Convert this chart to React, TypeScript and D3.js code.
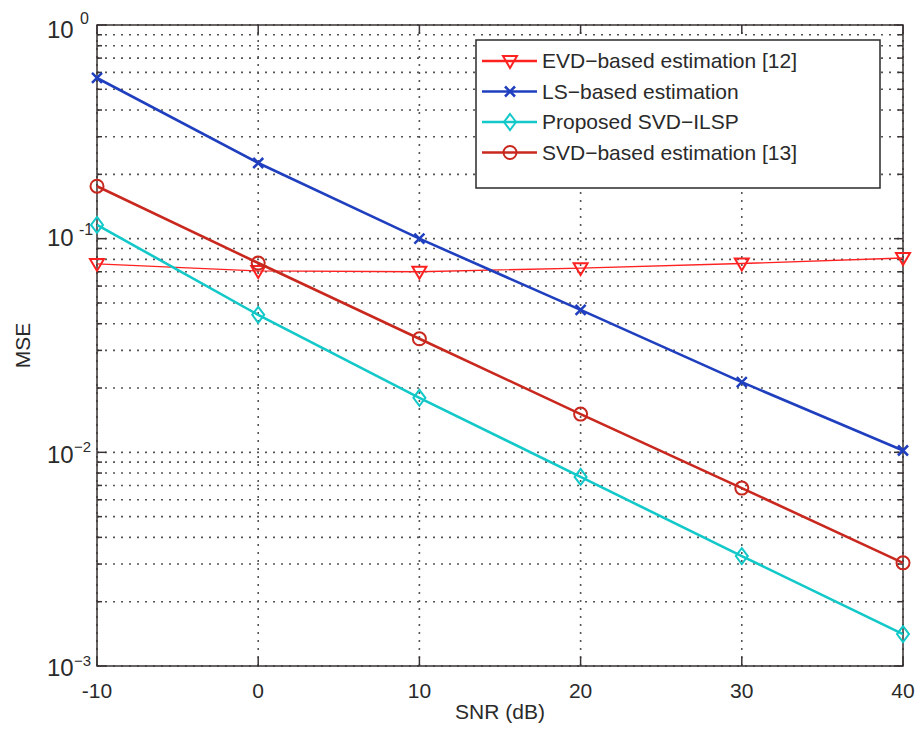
import * as d3 from 'd3';
import { useEffect, useRef } from 'react';

// значения
const snr = [-10, 0, 10, 20, 30, 40];
const evdMse = [0.0762, 0.0706, 0.0700, 0.0728, 0.0765, 0.0812];
const lsMse = [0.565, 0.226, 0.100, 0.0464, 0.0213, 0.0102];
const ilspMse = [0.116, 0.044, 0.018, 0.00767, 0.00327, 0.00141];
const svdMse = [0.176, 0.0769, 0.034, 0.0151, 0.0068, 0.00304];

const xTicks = [-10, 0, 10, 20, 30, 40];
const yDecades = [0, -1, -2, -3];
const yExpLabels = ['0', '-1', '\u22122', '\u22123'];

const seriesNames = [
  'EVD\u2212based estimation [12]',
  'LS\u2212based estimation',
  'Proposed SVD\u2212ILSP',
  'SVD\u2212based estimation [13]',
];

const App = () => {
  const chartRef = useRef<SVGSVGElement>(null);

  const width = 919;
  const height = 729;
  const margin = { top: 25, bottom: 63, left: 97, right: 16 };

  useEffect(() => {
    const svg = d3.select(chartRef.current);
    svg.selectAll('*').remove();

    const x = d3.scaleLinear().domain([-10, 40]).range([margin.left, width - margin.right]);
    const y = d3.scaleLog().domain([1e-3, 1]).range([height - margin.bottom, margin.top]);

    const [x0, x1] = x.range();
    const [y0, y1] = y.range();
    const font = 'Liberation Sans, Arial, sans-serif';
    const ink = '#2a2a2a';

    svg.append('rect').attr('width', width).attr('height', height).attr('fill', '#fff');

    // сетка
    const yGrid: number[] = [];
    for (let e = -3; e < 0; e++) for (let m = 1; m <= 9; m++) yGrid.push(m * Math.pow(10, e));
    yGrid.push(1);

    const g = svg.append('g');
    g.selectAll('.hg')
      .data(yGrid)
      .enter()
      .append('line')
      .attr('x1', x0).attr('x2', x1)
      .attr('y1', d => y(d)).attr('y2', d => y(d))
      .attr('stroke', '#555')
      .attr('stroke-width', 1.6)
      .attr('stroke-dasharray', '2,6');

    g.selectAll('.vg')
      .data(xTicks)
      .enter()
      .append('line')
      .attr('x1', d => x(d)).attr('x2', d => x(d))
      .attr('y1', y0).attr('y2', y1)
      .attr('stroke', '#555')
      .attr('stroke-width', 1.6)
      .attr('stroke-dasharray', '2,6');

    // рамка
    svg.append('rect')
      .attr('x', x0).attr('y', y1)
      .attr('width', x1 - x0).attr('height', y0 - y1)
      .attr('fill', 'none')
      .attr('stroke', '#3a3333')
      .attr('stroke-width', 1.5);

    // засечки по Y (внутрь, с обеих сторон)
    yGrid.forEach(v => {
      const major = Math.abs(Math.log10(v) - Math.round(Math.log10(v))) < 1e-9;
      const len = major ? 9 : 5;
      [[x0, x0 + len], [x1, x1 - len]].forEach(([a, b]) => {
        svg.append('line')
          .attr('x1', a).attr('x2', b)
          .attr('y1', y(v)).attr('y2', y(v))
          .attr('stroke', '#3a3333').attr('stroke-width', 1.5);
      });
    });
    xTicks.forEach(v => {
      [[y0, y0 - 9], [y1, y1 + 9]].forEach(([a, b]) => {
        svg.append('line')
          .attr('x1', x(v)).attr('x2', x(v))
          .attr('y1', a).attr('y2', b)
          .attr('stroke', '#3a3333').attr('stroke-width', 1.5);
      });
    });

    // подписи X
    svg.selectAll('.xl')
      .data(xTicks)
      .enter()
      .append('text')
      .attr('x', d => x(d))
      .attr('y', y0 + 32)
      .attr('text-anchor', 'middle')
      .style('font-family', font)
      .style('font-size', '21px')
      .attr('fill', ink)
      .text(d => String(d));

    // подписи Y 10^n (как в старом MATLAB — смещения у каждой свои)
    const baseDy = [13, 7, 11, 10];
    const expX = [80, 79, 74, 74];
    const expDy = [-1, -4, 0, 0];
    yDecades.forEach((e, i) => {
      const ty = y(Math.pow(10, e));
      svg.append('text')
        .attr('x', 47)
        .attr('y', ty + baseDy[i])
        .style('font-family', font)
        .style('font-size', '24px')
        .attr('fill', ink)
        .text('10');
      svg.append('text')
        .attr('x', expX[i])
        .attr('y', ty + expDy[i])
        .style('font-family', font)
        .style('font-size', i < 2 ? '16px' : '15px')
        .attr('fill', ink)
        .text(yExpLabels[i]);
    });

    svg.append('text')
      .attr('x', (x0 + x1) / 2)
      .attr('y', y0 + 53)
      .attr('text-anchor', 'middle')
      .style('font-family', font)
      .style('font-size', '21px')
      .attr('fill', ink)
      .text('SNR (dB)');

    svg.append('text')
      .attr('transform', `translate(30, ${(y0 + y1) / 2}) rotate(-90)`)
      .attr('text-anchor', 'middle')
      .style('font-family', font)
      .style('font-size', '21px')
      .attr('fill', ink)
      .text('MSE');

    // маркеры
    const drawMarker = (sel: any, kind: string, color: string, cx: number, cy: number) => {
      if (kind === 'tri') {
        const s = 7;
        sel.append('path')
          .attr('d', `M${cx - s},${cy - s * 0.7} L${cx + s},${cy - s * 0.7} L${cx},${cy + s} Z`)
          .attr('fill', 'none').attr('stroke', color).attr('stroke-width', 2);
      } else if (kind === 'x') {
        const s = 5;
        sel.append('path')
          .attr('d', `M${cx - s},${cy - s} L${cx + s},${cy + s} M${cx - s},${cy + s} L${cx + s},${cy - s}`)
          .attr('stroke', color).attr('stroke-width', 2.5);
      } else if (kind === 'dia') {
        const s = 8;
        sel.append('path')
          .attr('d', `M${cx},${cy - s} L${cx + s * 0.75},${cy} L${cx},${cy + s} L${cx - s * 0.75},${cy} Z`)
          .attr('fill', 'none').attr('stroke', color).attr('stroke-width', 2);
      } else {
        sel.append('circle')
          .attr('cx', cx).attr('cy', cy).attr('r', 6.5)
          .attr('fill', 'none').attr('stroke', color).attr('stroke-width', 2);
      }
    };

    const series = [
      { data: evdMse, color: '#ff2020', w: 1.3, kind: 'tri' },
      { data: lsMse, color: '#1f3fbf', w: 2.6, kind: 'x' },
      { data: ilspMse, color: '#12c8c8', w: 2.6, kind: 'dia' },
      { data: svdMse, color: '#c8281e', w: 2.6, kind: 'circ' },
    ];

    const line = d3.line<number>()
      .x((_, i) => x(snr[i]))
      .y(d => y(d));

    series.forEach(s => {
      const gs = svg.append('g');
      gs.append('path')
        .datum(s.data)
        .attr('d', line)
        .attr('fill', 'none')
        .attr('stroke', s.color)
        .attr('stroke-width', s.w);
      s.data.forEach((d, i) => drawMarker(gs, s.kind, s.color, x(snr[i]), y(d)));
    });

    // легенда
    const lx = 476, ly = 40, lw = 404, lh = 148;
    const lg = svg.append('g');
    lg.append('rect')
      .attr('x', lx).attr('y', ly).attr('width', lw).attr('height', lh)
      .attr('fill', '#fff').attr('stroke', '#2a2a2a').attr('stroke-width', 1.5);
    seriesNames.forEach((name, i) => {
      const cy = ly + 21 + i * 30.5;
      const s = series[i];
      lg.append('line')
        .attr('x1', lx + 6).attr('x2', lx + 61)
        .attr('y1', cy).attr('y2', cy)
        .attr('stroke', s.color).attr('stroke-width', 2.6);
      drawMarker(lg, s.kind, s.color, lx + 34, cy);
      lg.append('text')
        .attr('x', lx + 66)
        .attr('y', cy + 7)
        .style('font-family', font)
        .style('font-size', '21px')
        .attr('fill', ink)
        .text(name);
    });
  }, []);

  return (
    <svg
      ref={chartRef}
      width={width}
      height={height}
      style={{ position: 'absolute', left: 0, top: 0 }}
    ></svg>
  );
};

export default App;
